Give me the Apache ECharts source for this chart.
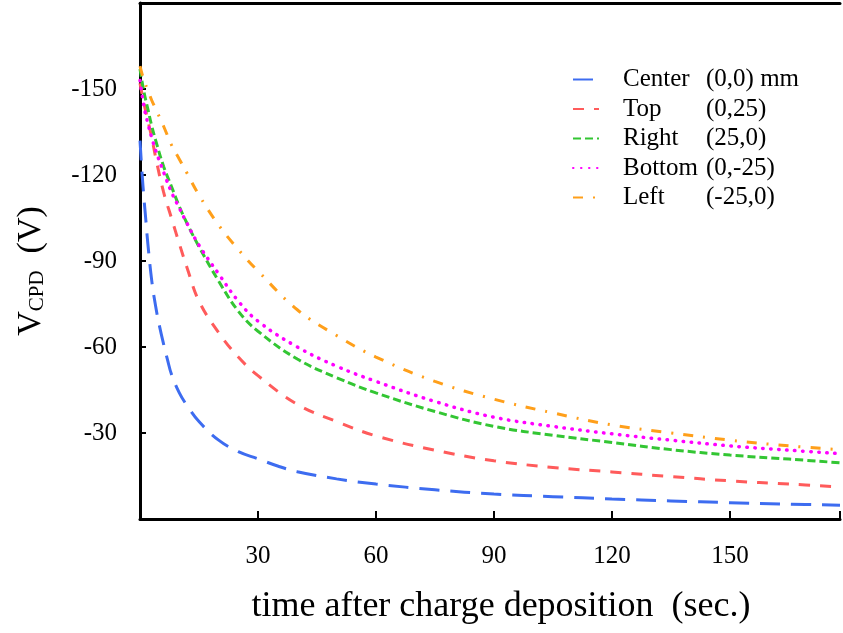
<!DOCTYPE html>
<html>
<head>
<meta charset="utf-8">
<script src="https://cdn.jsdelivr.net/npm/echarts@6/dist/echarts.min.js"></script>
<style>html,body{margin:0;padding:0;background:#fff;}#c{width:843px;height:633px;}</style>
</head>
<body>
<div id="c"></div>
<script>
// ---- data ----
const seriesNames = ['Center', 'Top', 'Right', 'Bottom', 'Left'];
const seriesCoords = ['(0,0) mm', '(0,25)', '(25,0)', '(0,-25)', '(-25,0)'];
const xTickLabels = ['30', '60', '90', '120', '150'];
const yTickLabels = ['-150', '-120', '-90', '-60', '-30'];

const centerTime = [0, 0.5, 1, 1.5, 2, 3, 4, 5, 6, 7, 8, 10, 12, 15, 20, 25, 30, 35, 40, 50, 60, 75, 90, 105, 120, 135, 150, 165, 178];
const centerV = [-132, -121, -112, -104, -96, -83, -74, -67, -61, -55.5, -50.5, -44, -39.5, -34, -27.5, -23.5, -21, -18.5, -16.5, -14, -12.2, -10.2, -8.7, -7.8, -7, -6.3, -5.7, -5.2, -4.8];

const time = [0, 1, 2, 3, 4, 6, 8, 10, 12, 15, 20, 25, 30, 40, 50, 60, 75, 90, 105, 120, 135, 150, 165, 178];
const topV = [-152, -145, -139, -133, -126, -114, -105, -96, -87.5, -76, -65, -56.5, -50, -40, -34, -29, -24, -20.3, -18, -16.4, -14.8, -13.3, -12.2, -11.2];
const rightV = [-157, -149, -143, -137, -132, -123, -116, -109, -103, -95, -83, -72.5, -65.5, -55.8, -49.3, -44, -37.5, -32.3, -29.2, -26.7, -24.2, -22.3, -20.9, -19.6];
const bottomV = [-153, -144, -138, -133, -128.5, -121, -114, -108.5, -103, -95.5, -85.5, -76, -69, -60, -53.3, -48, -41, -35.5, -32.3, -29.7, -27.5, -25.5, -24, -22.8];
const leftV = [-158, -153, -149.5, -146, -143, -137, -130.5, -125.5, -120.5, -113, -102.5, -94, -86.5, -73, -64, -56.5, -48, -41.8, -37, -32.8, -30, -27.5, -25.5, -24.2];

// ---- styles ----
const FONT = 'Liberation Serif';
const colors = ['#3d6cf0', '#ff5b5b', '#33c633', '#ff00ff', '#ff9f1a'];
const dashes = [[20, 11], [11, 10], [8, 4], [0.5, 7.5], [10, 10, 2, 10]];
const widths = [3, 3, 3, 3.5, 3];

function pairs(t, v) { return t.map((x, i) => [x, v[i]]); }
const dataSets = [pairs(centerTime, centerV), pairs(time, topV), pairs(time, rightV), pairs(time, bottomV), pairs(time, leftV)];

const chart = echarts.init(document.getElementById('c'), null, {renderer: 'canvas'});
const coordMap = {};
seriesNames.forEach((n, i) => coordMap[n] = seriesCoords[i]);

chart.setOption({
  animation: false,
  backgroundColor: '#fff',
  grid: {left: 140, top: 3, right: 0, bottom: 114, containLabel: false},
  legend: {
    orient: 'vertical', left: 572, top: 67, padding: 0,
    itemWidth: 26, itemHeight: 14, itemGap: 4.5,
    itemStyle: {opacity: 0},
    data: seriesNames,
    formatter: n => '{g| }{n|' + n + '}{c|' + coordMap[n] + '}',
    textStyle: {
      fontFamily: FONT, fontSize: 25, color: '#000', lineHeight: 25,
      rich: {
        g: {width: 19, fontSize: 25, fontFamily: FONT},
        n: {width: 83, fontSize: 25, fontFamily: FONT, color: '#000'},
        c: {fontSize: 25, fontFamily: FONT, color: '#000'}
      }
    }
  },
  xAxis: [{
    type: 'value', min: 0, max: 178, interval: 30,
    axisLine: {show: true, lineStyle: {color: '#000', width: 3}},
    axisTick: {show: true, inside: true, length: 8, lineStyle: {color: '#000', width: 2}},
    splitLine: {show: false},
    axisLabel: {
      margin: 25, fontFamily: FONT, fontSize: 25, color: '#000',
      formatter: v => { const s = String(v); return xTickLabels.indexOf(s) >= 0 ? s : ''; }
    }
  }, {
    type: 'value', position: 'top', min: 0, max: 178,
    axisLine: {show: true, lineStyle: {color: '#000', width: 3}},
    axisTick: {show: false}, axisLabel: {show: false}, splitLine: {show: false}
  }],
  yAxis: {
    type: 'value', min: -180, max: 0, interval: 30, inverse: true,
    axisLine: {show: true, lineStyle: {color: '#000', width: 3}},
    axisTick: {show: true, inside: true, length: 6, lineStyle: {color: '#000', width: 2}},
    splitLine: {show: false},
    axisLabel: {
      margin: 23, fontFamily: FONT, fontSize: 25, color: '#000',
      formatter: v => { const s = String(v); return yTickLabels.indexOf(s) >= 0 ? s : ''; }
    }
  },
  graphic: [{
    type: 'text', x: 501, y: 607,
    style: {text: 'time after charge deposition  (sec.)', font: '36px "Liberation Serif"', fill: '#000', align: 'center', verticalAlign: 'middle'}
  }, {
    type: 'text', x: 31, y: 271, rotation: Math.PI / 2,
    style: {
      text: '{v|V}{s|CPD}{p|  (V)}', align: 'center', verticalAlign: 'middle', fill: '#000',
      rich: {
        v: {fontSize: 34, fontFamily: FONT, fill: '#000', verticalAlign: 'bottom'},
        s: {fontSize: 21, fontFamily: FONT, fill: '#000', verticalAlign: 'bottom'},
        p: {fontSize: 34, fontFamily: FONT, fill: '#000', verticalAlign: 'bottom'}
      }
    }
  }],
  series: seriesNames.map((n, i) => ({
    name: n, type: 'line', data: dataSets[i], showSymbol: false, symbol: 'none',
    smooth: 0.4, clip: true,
    lineStyle: {color: colors[i], width: widths[i], type: dashes[i], cap: i === 3 ? 'round' : 'butt'},
    itemStyle: {color: colors[i]}
  }))
});
</script>
</body>
</html>
